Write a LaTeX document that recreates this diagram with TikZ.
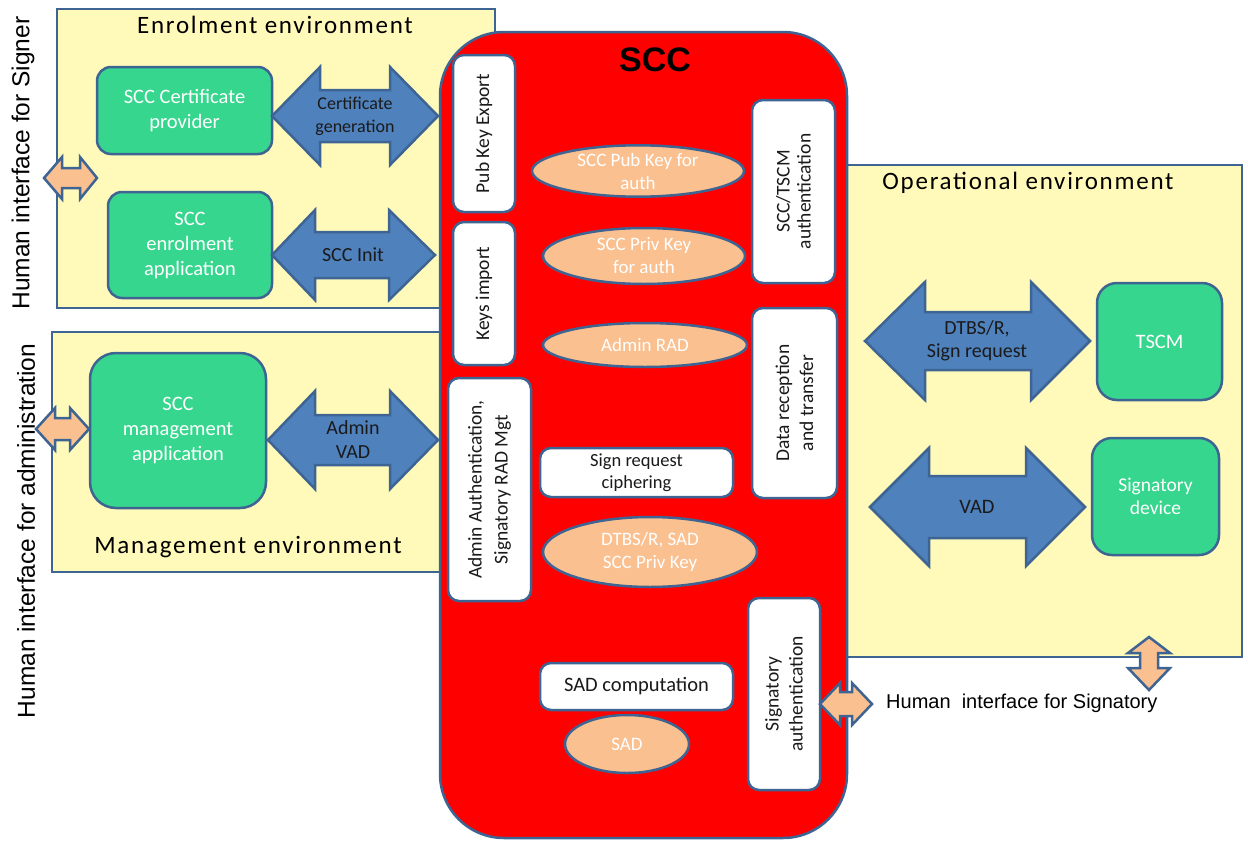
\documentclass[tikz,border=0pt]{standalone}
\usepackage{fontspec}
\setmainfont{Carlito}
\newfontfamily\arialf{Liberation Sans}
\newfontfamily\envfont[LetterSpace=7]{Carlito}
\usetikzlibrary{shapes.geometric}
\definecolor{envyellow}{HTML}{FFFAB9}
\definecolor{bord}{HTML}{3E6493}
\definecolor{gfill}{HTML}{37D68E}
\definecolor{afill}{HTML}{4F81BD}
\definecolor{peach}{HTML}{FAC090}
\definecolor{sccred}{HTML}{FF0000}
\definecolor{txt}{HTML}{1A1A1A}
\newcommand\HDbl[8]{% style, xL, xR, yc, halfH, halfS, neckL, neckR
  \draw[#1] (#2,#4) -- (#7,#4-#5) -- (#7,#4-#6) -- (#8,#4-#6) -- (#8,#4-#5) -- (#3,#4)
    -- (#8,#4+#5) -- (#8,#4+#6) -- (#7,#4+#6) -- (#7,#4+#5) -- cycle;}
\begin{document}
\begin{tikzpicture}[x=1pt,y=-1pt,
  envbox/.style={draw=bord, fill=envyellow, line width=2.5},
  envlabel/.style={font=\envfont\fontsize{25}{29}\selectfont, text=black, inner sep=0},
  gbox/.style={draw=bord, fill=gfill, rounded corners=14, line width=2.5, text=white,
    align=center, inner sep=0, font=\fontsize{20.5}{25}\selectfont},
  wbox/.style={draw=bord, fill=white, rounded corners=11, line width=2.5, text=txt,
    align=center, inner sep=0, font=\fontsize{19.5}{24}\selectfont},
  ell/.style={ellipse, draw=bord, fill=peach, line width=2.5, text=white, align=center,
    inner sep=0, font=\fontsize{19}{23}\selectfont},
  barrow/.style={draw=bord, fill=afill, line width=2.5, line join=miter},
  parrow/.style={draw=bord, fill=peach, line width=2.5, line join=miter},
  alabel/.style={text=txt, align=center, inner sep=0, font=\fontsize{19}{23}\selectfont},
  hlabel/.style={font=\arialf\fontsize{24.5}{28}\selectfont, text=black, inner sep=0}
]
\useasboundingbox (0,0) rectangle (1248,841);

% environments
\draw[envbox] (57,9) rectangle (495,308);
\draw[envbox] (52,332) rectangle (495,572);
\draw[envbox] (800,165) rectangle (1242,657);

% SCC
\draw[draw=bord, fill=sccred, line width=2.5, rounded corners=64] (440,32) rectangle (847,838);
\node[font=\arialf\bfseries\fontsize{34}{40}\selectfont, inner sep=0] (scc) at (655,60) {SCC};

% inner SCC boxes
\node[wbox, rotate=90, minimum width=157, minimum height=62] (pub) at (484,133.5) {Pub Key Export};
\node[wbox, rotate=90, minimum width=143, minimum height=62] (keys) at (484,293.5) {Keys import};
\node[wbox, rotate=90, minimum width=223, minimum height=83, font=\fontsize{19.5}{26}\selectfont] (admauth) at (489.5,489.5) {Admin Authentication,\\Signatory RAD Mgt};
\node[wbox, rotate=90, minimum width=183, minimum height=83, font=\fontsize{19.5}{21}\selectfont] (tscmauth) at (793.5,191.5) {SCC/TSCM\\authentication};
\node[wbox, rotate=90, minimum width=190, minimum height=85] (datarec) at (794.5,403) {Data reception\\and transfer};
\node[wbox, rotate=90, minimum width=192, minimum height=72] (sigauth) at (784,694) {Signatory\\authentication};
\node[wbox, minimum width=193, minimum height=49, font=\fontsize{18.5}{22}\selectfont] (cipher) at (636.5,472.5) {Sign request\\ciphering};
\node[wbox, minimum width=193, minimum height=47, font=\fontsize{20.5}{24}\selectfont] (sadcomp) at (636.5,686.5) {SAD computation};

% ellipses
\node[ell, minimum width=212, minimum height=48] (e1) at (638,171) {SCC Pub Key for\\auth};
\node[ell, minimum width=202, minimum height=56] (e2) at (644,256) {SCC Priv Key\\for auth};
\node[ell, minimum width=204, minimum height=44] (e3) at (645,345) {Admin RAD};
\node[ell, minimum width=214, minimum height=70] (e4) at (650,552) {DTBS/R, SAD\\SCC Priv Key};
\node[ell, minimum width=124, minimum height=58] (e5) at (627,744) {SAD};

% green boxes
\node[gbox, minimum width=175, minimum height=87] (certprov) at (184.5,110.5) {SCC Certificate\\provider};
\node[gbox, minimum width=164, minimum height=106] (enrapp) at (190,245) {SCC\\enrolment\\application};
\node[gbox, rounded corners=26, minimum width=176, minimum height=155] (mgmtapp) at (178,430.5) {SCC\\management\\application};
\node[gbox, rounded corners=20, minimum width=125, minimum height=117] (tscm) at (1159.5,341.5) {TSCM};
\node[gbox, rounded corners=20, minimum width=127, minimum height=117, font=\fontsize{19.5}{23}\selectfont] (sigdev) at (1155.5,496.5) {Signatory\\device};

% blue double arrows
\HDbl{barrow}{272}{438}{116}{49}{26}{320}{390}
\HDbl{barrow}{272}{435}{255}{45}{23}{315}{389}
\HDbl{barrow}{268}{438}{440}{49}{25}{315}{390}
\HDbl{barrow}{865}{1090}{341}{59}{29}{925}{1031}
\HDbl{barrow}{870}{1085}{507}{59}{31}{929}{1026}
\node[alabel, font=\fontsize{18}{23}\selectfont] (lcert) at (355,116) {Certificate\\generation};
\node[alabel, font=\fontsize{20}{24}\selectfont] (linit) at (353,255) {SCC Init};
\node[alabel, font=\fontsize{20}{24}\selectfont] (ladm) at (353,440) {Admin\\VAD};
\node[alabel, font=\fontsize{20}{23}\selectfont] (ldtbs) at (977,341) {DTBS/R,\\Sign request};
\node[alabel, font=\fontsize{20.5}{24}\selectfont] (lvad) at (977,507) {VAD};

% peach double arrows
\HDbl{parrow}{44}{97}{178}{21}{10}{62}{80}
\HDbl{parrow}{36}{89}{429}{21}{11}{55}{70}
\HDbl{parrow}{820}{872}{704}{21}{12}{840}{852}
\draw[parrow] (1149,637) -- (1170,653) -- (1158,653) -- (1158,668) -- (1170,668) -- (1149,690)
  -- (1128,668) -- (1140,668) -- (1140,653) -- (1128,653) -- cycle;

% labels
\node[envlabel] (lenr) at (275,25) {Enrolment environment};
\node[envlabel] (lmgmt) at (248,547) {Management environment};
\node[envlabel] (lop) at (1028,183) {Operational environment};
\node[hlabel, rotate=90] (hsigner) at (23,163) {Human interface for Signer};
\node[hlabel, rotate=90] (hadmin) at (26,531) {Human interface for administration};
\node[font=\arialf\fontsize{20}{24}\selectfont, anchor=west, inner sep=0] (hsig) at (886,703) {Human\ \ interface for Signatory};
\end{tikzpicture}
\end{document}
